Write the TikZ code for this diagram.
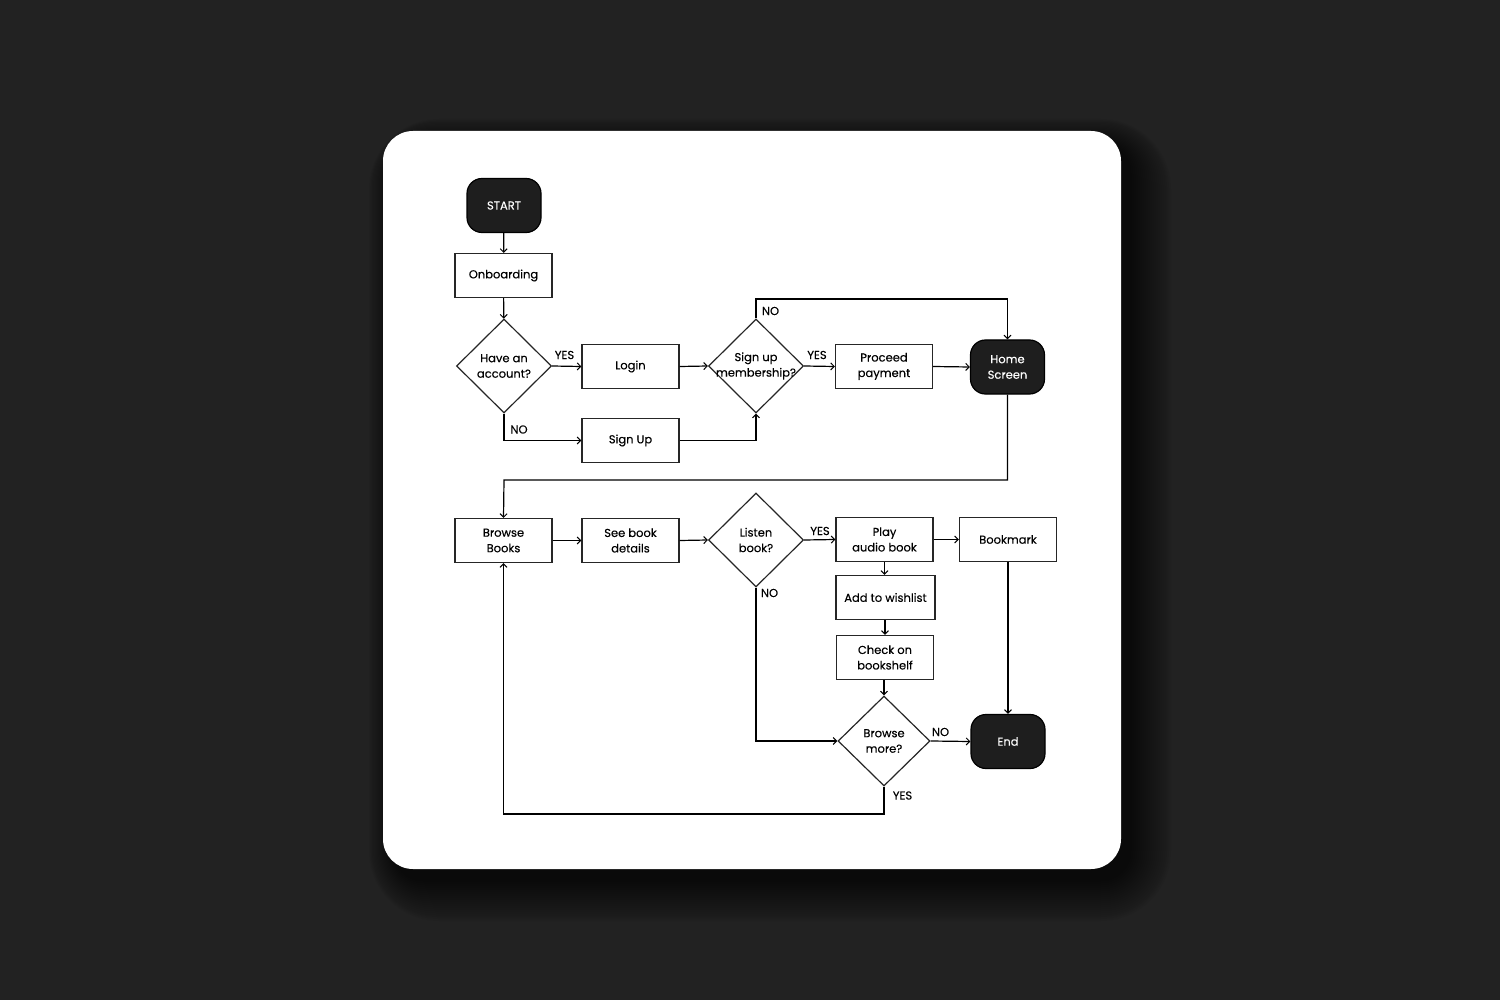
\documentclass[tikz,border=0pt]{standalone}
\usepackage{fontspec}
\setmainfont{Poppins}[FakeBold=0.25]
\usetikzlibrary{arrows.meta,shapes.geometric}
\definecolor{backdrop}{RGB}{34,34,34}
\definecolor{termfill}{RGB}{30,30,30}

\begin{document}
\begin{tikzpicture}[x=1pt,y=-1pt,
  flow/.style={draw=black, line width=1.2pt,
    -{Straight Barb[length=3.5pt,width=7pt,line width=1pt]}},
  txt/.style={font=\fontsize{11.5}{15.5}\selectfont, align=center},
  box/.style={draw=black!85, line width=1.2pt, minimum width=97pt,
    minimum height=44pt, inner sep=0pt, txt},
  term/.style={draw=black, line width=1.2pt, fill=termfill, text=white,
    rounded corners=15pt, minimum width=74pt, minimum height=54pt,
    inner sep=0pt, txt},
  choice/.style={draw=black!85, line width=1.2pt, diamond, aspect=1,
    minimum width=95pt, minimum height=94pt, inner sep=0pt},
  tag/.style={font=\fontsize{11.5}{12}\selectfont, inner sep=0pt},
]
% page and backdrop
\useasboundingbox (0,0) rectangle (1500,1000);
\fill[backdrop] (0,0) rectangle (1500,1000);

% soft drop shadow of the card
\foreach \s in {0,2,...,40}{
  \fill[black, opacity=0.035, rounded corners={30pt+\s pt}]
    (383+10-\s*0.6,131+12-\s*0.6) rectangle (1121+10+\s,869+12+\s);
}
% the card
\fill[white, rounded corners=30pt] (383,131) rectangle (1121,869);

% nodes
\node[term] (start) at (504,205.5) {START};
\node[box] (onboard) at (503.5,275.5) {Onboarding};
\node[choice, label={[txt]center:Have an\\account?}] (have) at (504,366) {};
\node[box] (login) at (630.5,366.5) {Login};
\node[box] (signup) at (630.5,440.5) {Sign Up};
\node[choice, label={[txt]center:Sign up\\membership?}] (member) at (756,366) {};
\node[box] (pay) at (884,366.5) {Proceed\\payment};
\node[term] (home) at (1007.5,367) {Home\\Screen};

\node[box] (browse) at (503.5,540.5) {Browse\\Books};
\node[box] (details) at (630.5,540.5) {See book\\details};
\node[choice, label={[txt]center:Listen\\book?}] (listen) at (756,540) {};
\node[box] (play) at (884.5,539.5) {Play\\audio book};
\node[box] (mark) at (1008,539.5) {Bookmark};
\node[box, minimum width=99pt] (wish) at (885.5,597.5) {Add to wishlist};
\node[box] (shelf) at (885,657.5) {Check on\\bookshelf};
\node[choice, minimum width=92pt, minimum height=90pt,
  label={[txt]center:Browse\\more?}] (more) at (884,741) {};
\node[term] (end) at (1008,741.5) {End};

% turning points of the long connectors
\coordinate (memberTop) at (756,299);
\coordinate (homeDrop) at (504,480);
\coordinate (moreDrop) at (884,814);

% connectors
\draw[flow] (start) -- (onboard);
\draw[flow] (onboard) -- (have);
\draw[flow] (have.east) -- (login.west);
\draw[flow] (have.south) |- (signup.west);
\draw[flow] (login.east) -- (member.west);
\draw[flow] (signup.east) -| (member.south);
\draw[flow] (member.north) -- (memberTop) -| (home.north);
\draw[flow] (member.east) -- (pay.west);
\draw[flow] (pay.east) -- (home.west);
\draw[flow] (home.south) |- (homeDrop) -- (browse.north);
\draw[flow] (browse.east) -- (details.west);
\draw[flow] (details.east) -- (listen.west);
\draw[flow] (listen.east) -- (play.west);
\draw[flow] (listen.south) |- (more.west);
\draw[flow] (play.east) -- (mark.west);
\draw[flow] (play.south) -- (wish.north -| play.south);
\draw[flow] (wish.south -| shelf.north) -- (shelf.north);
\draw[flow] (shelf.south -| more.north) -- (more.north);
\draw[flow] (more.east) -- (end.west);
\draw[flow] (mark.south) -- (end.north);
\draw[flow] (more.south) -- (moreDrop) -| (browse.south);

% branch labels
\node[tag] (yes1) at (564.5,355) {YES};
\node[tag] (no1) at (519,429.5) {NO};
\node[tag] (no2) at (770.5,311) {NO};
\node[tag] (yes2) at (817,355) {YES};
\node[tag] (yes3) at (820,531) {YES};
\node[tag] (no3) at (769.5,593) {NO};
\node[tag] (no4) at (940.5,732) {NO};
\node[tag] (yes4) at (902.5,795.5) {YES};
\end{tikzpicture}
\end{document}
